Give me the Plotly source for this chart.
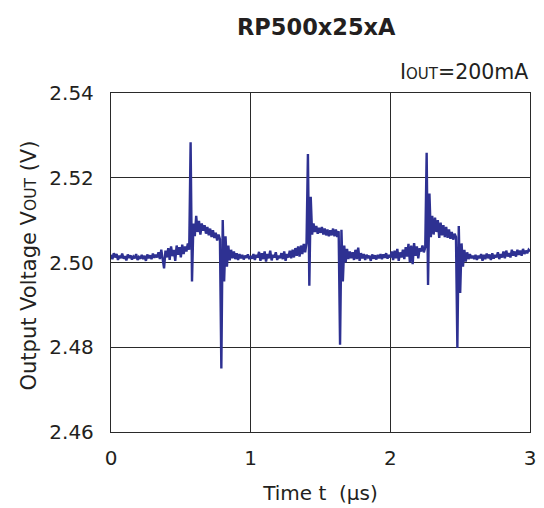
import plotly.graph_objects as go

title_text = "<b>RP500x25xA</b>"
condition_text = "I<span style='font-size:15px'>OUT</span>=200mA"
x_title = "Time t  (µs)"
y_title = "Output Voltage V<span style='font-size:15.5px'>OUT</span> (V)"

x_ticks = [0, 1, 2, 3]
x_tick_labels = ["0", "1", "2", "3"]
y_ticks = [2.46, 2.48, 2.50, 2.52, 2.54]
y_tick_labels = ["2.46", "2.48", "2.50", "2.52", "2.54"]

t_start_us = 0.0
t_step_us = 0.01

# Output voltage samples (V), one every 0.01 µs, 10 per row
vout = [
    2.5018, 2.5008, 2.5022, 2.5012, 2.5020, 2.5006, 2.5016, 2.5010, 2.5021, 2.5009,
    2.5015, 2.5005, 2.5019, 2.5011, 2.5017, 2.5007, 2.5014, 2.5010, 2.5020, 2.5006,
    2.5013, 2.5009, 2.5018, 2.5008, 2.5016, 2.5004, 2.5019, 2.5010, 2.5017, 2.5008,
    2.5021, 2.5011, 2.5018, 2.5012, 2.5024, 2.5008, 2.5030, 2.5002, 2.4986, 2.5028,
    2.5012, 2.5034, 2.5006, 2.5038, 2.5015, 2.5030, 2.5004, 2.5040, 2.5018, 2.5036,
    2.5012, 2.5042, 2.5020, 2.5038, 2.5026, 2.5045, 2.5030, 2.5284, 2.4955, 2.5092,
    2.5062, 2.5110, 2.5072, 2.5098, 2.5066, 2.5092, 2.5075, 2.5088, 2.5068, 2.5084,
    2.5064, 2.5080, 2.5060, 2.5076, 2.5058, 2.5070, 2.5052, 2.5066, 2.5055, 2.4750,
    2.5100, 2.4955, 2.5062, 2.4990, 2.5040, 2.5005, 2.5030, 2.5010, 2.5026, 2.5008,
    2.5022, 2.5006, 2.5020, 2.5010, 2.5018, 2.5007, 2.5016, 2.5011, 2.5019, 2.5008,
    2.5015, 2.5009, 2.5020, 2.5006, 2.5018, 2.5012, 2.5025, 2.5004, 2.5022, 2.5008,
    2.5026, 2.5002, 2.5020, 2.5010, 2.5028, 2.5005, 2.5018, 2.5012, 2.5024, 2.5006,
    2.5016, 2.5010, 2.5022, 2.5008, 2.5026, 2.5004, 2.5020, 2.5012, 2.5028, 2.5010,
    2.5030, 2.5012, 2.5034, 2.5016, 2.5038, 2.5014, 2.5040, 2.5020, 2.5044, 2.5024,
    2.5046, 2.5256, 2.4945, 2.5155, 2.5066, 2.5092, 2.5072, 2.5086, 2.5068, 2.5082,
    2.5070, 2.5084, 2.5066, 2.5080, 2.5064, 2.5078, 2.5062, 2.5076, 2.5064, 2.5080,
    2.5062, 2.5078, 2.5060, 2.5074, 2.4806, 2.5077, 2.4955, 2.5040, 2.5000, 2.5032,
    2.5008, 2.5026, 2.5010, 2.5024, 2.5006, 2.5030, 2.5008, 2.5035, 2.5004, 2.5022,
    2.5010, 2.5020, 2.5006, 2.5018, 2.5012, 2.5016, 2.5004, 2.5019, 2.5009, 2.5017,
    2.5007, 2.5018, 2.5010, 2.5020, 2.5008, 2.5019, 2.5011, 2.5022, 2.5009, 2.5018,
    2.5012, 2.5026, 2.5006, 2.5028, 2.5010, 2.5032, 2.5004, 2.5024, 2.5012, 2.5030,
    2.5008, 2.5036, 2.5014, 2.5044, 2.5000, 2.5040, 2.4996, 2.5046, 2.5016, 2.5038,
    2.5010, 2.5034, 2.5026, 2.5040, 2.5024, 2.5036, 2.5259, 2.4947, 2.5163, 2.5060,
    2.5110, 2.5066, 2.5106, 2.5072, 2.5100, 2.5058, 2.5094, 2.5064, 2.5088, 2.5060,
    2.5084, 2.5058, 2.5078, 2.5056, 2.5072, 2.5054, 2.5068, 2.5060, 2.4798, 2.5086,
    2.4928, 2.5045, 2.4990, 2.5030, 2.5002, 2.5024, 2.5008, 2.5020, 2.5010, 2.5016,
    2.5008, 2.5018, 2.5006, 2.5016, 2.5010, 2.5020, 2.5004, 2.5018, 2.5008, 2.5021,
    2.5010, 2.5019, 2.5006, 2.5022, 2.5009, 2.5018, 2.5012, 2.5024, 2.5008, 2.5020,
    2.5012, 2.5026, 2.5010, 2.5028, 2.5014, 2.5022, 2.5012, 2.5030, 2.5016, 2.5026,
    2.5014, 2.5030, 2.5018, 2.5028, 2.5016, 2.5032, 2.5020, 2.5028, 2.5022, 2.5030,
    2.5026,
]

FONT = "DejaVu Sans, Liberation Sans, Arial, sans-serif"
INK = "#231f20"
GRID = "#2a2a2a"

fig = go.Figure()
fig.add_trace(go.Scatter(
    x0=t_start_us, dx=t_step_us, y=vout,
    mode="lines",
    line=dict(color="#2e3192", width=2.4),
    hoverinfo="skip",
    showlegend=False,
))

fig.update_layout(
    width=536, height=500,
    margin=dict(l=103, r=14, t=85, b=76, autoexpand=False),
    paper_bgcolor="white", plot_bgcolor="white",
    font=dict(family=FONT, color=INK, size=20),
    showlegend=False,
    annotations=[
        dict(text=title_text, xref="paper", yref="paper", x=0.49, y=1.0,
             yshift=66, xanchor="center", yanchor="middle", showarrow=False,
             font=dict(size=22.5, family=FONT, color=INK)),
        dict(text=condition_text, xref="paper", yref="paper", x=1.0, y=1.0,
             yshift=21, xanchor="right", yanchor="middle", showarrow=False,
             font=dict(size=20.5, family=FONT, color=INK)),
        dict(text=y_title, xref="paper", yref="paper", x=0.0, y=0.5,
             xshift=-83, yshift=-3, xanchor="center", yanchor="middle", textangle=-90,
             showarrow=False, font=dict(size=21, family=FONT, color=INK)),
    ],
)

fig.update_xaxes(
    range=[0, 3], tickvals=x_ticks, ticktext=x_tick_labels,
    showgrid=True, gridcolor=GRID, gridwidth=1.3,
    showline=True, linecolor=GRID, linewidth=1.3, mirror=True,
    ticks="", zeroline=False, ticklabelstandoff=8, automargin=False,
    tickfont=dict(size=20, family=FONT, color=INK),
    title=dict(text=x_title, font=dict(size=20, family=FONT, color=INK), standoff=16),
)
fig.update_yaxes(
    range=[2.46, 2.54], tickvals=y_ticks, ticktext=y_tick_labels,
    showgrid=True, gridcolor=GRID, gridwidth=1.3,
    showline=True, linecolor=GRID, linewidth=1.3, mirror=True,
    ticks="", zeroline=False, ticklabelstandoff=12, automargin=False,
    tickfont=dict(size=20, family=FONT, color=INK),
)

fig.write_html("out.html")
